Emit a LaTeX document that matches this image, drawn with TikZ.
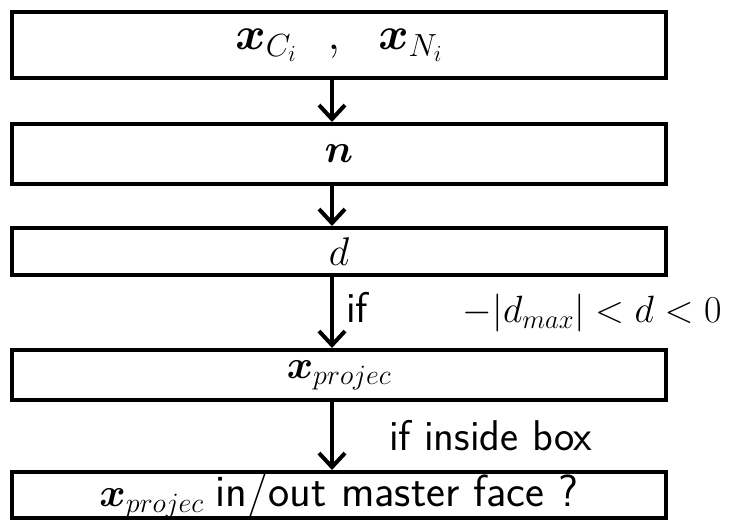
\RequirePackage{fix-cm}
\documentclass[tikz,border=0pt]{standalone}
\usepackage{amsmath,amssymb}
\usepackage{bm}
\usetikzlibrary{positioning,arrows.meta}

\DeclareMathSizes{38}{38}{26.6}{19}
\DeclareMathSizes{40}{40}{28}{20}
\DeclareMathSizes{46}{46}{32}{23}
\newcommand{\sftxt}[2][43]{{\fontsize{#1}{50}\selectfont\sffamily #2}}

\begin{document}
\begin{tikzpicture}[x=1pt, y=-1pt,
    stepbox/.style={draw, line width=4pt, minimum width=654pt, inner sep=0pt, font=\fontsize{40}{48}\selectfont},
    flow/.style={-{Straight Barb[length=14pt,width=26pt]}, line width=4pt},
    cond/.style={font=\fontsize{38}{46}\selectfont, inner sep=0pt}
]
\useasboundingbox (0,0) rectangle (734,521);
\node[stepbox, minimum height=66pt, font=\fontsize{46}{54}\selectfont] (xc) at (339,45)
    {$\bm{x}_{C_i}\enskip\,,\enskip\,\bm{x}_{N_i}$};
\node[stepbox, minimum height=60pt, below=42pt of xc] (nrm) {$\bm{n}$};
\node[stepbox, minimum height=47pt, below=40pt of nrm] (dist) {$d$};
\node[stepbox, minimum height=50pt, below=71pt of dist] (proj) {$\bm{x}_{projec}$};
\node[stepbox, minimum height=46pt, below=68pt of proj] (face) {$\bm{x}_{projec}$ \sftxt[45]{in/out master face ?}};

\draw[flow] ([xshift=-7pt]xc.south) -- ([xshift=-7pt]nrm.north);
\draw[flow] ([xshift=-7pt]nrm.south) -- ([xshift=-7pt]dist.north);
\draw[flow] ([xshift=-7pt]dist.south) -- ([xshift=-7pt]proj.north)
    node[cond, midway, right, xshift=12pt] {\sftxt{if}\hspace{95pt}$-|d_{max}|<d<0$};
\draw[flow] ([xshift=-7pt]proj.south) -- ([xshift=-7pt]face.north)
    node[cond, midway, right, xshift=55pt] {\sftxt{if inside box}};
\end{tikzpicture}
\end{document}
